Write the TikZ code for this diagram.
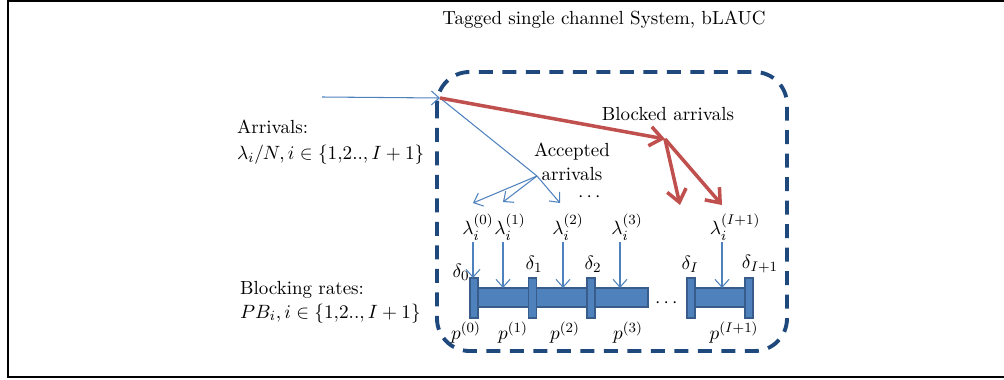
\documentclass[tikz,border=0pt]{standalone}
\usepackage{amsmath,amssymb}
\usetikzlibrary{arrows.meta,positioning}

\definecolor{boxblue}{RGB}{31,73,125}
\definecolor{arrblue}{RGB}{79,129,189}
\definecolor{barblue}{RGB}{79,129,189}
\definecolor{baredge}{RGB}{56,93,138}
\definecolor{blockred}{RGB}{192,80,77}

\tikzset{
  accarrow/.style={arrblue, line width=0.6pt, -{Straight Barb[length=4.5pt,width=8pt]}},
  blkarrow/.style={blockred, line width=2pt, -{Straight Barb[length=7pt,width=11pt]}},
  barbox/.style={draw=baredge, fill=barblue, line width=1pt, inner sep=0pt},
  postbox/.style={barbox, minimum width=0.16cm, minimum height=0.8cm},
  lbl/.style={inner sep=1pt}
}

\begin{document}
\begin{tikzpicture}[x=0.02cm, y=-0.02cm, every node/.style={font=\fontsize{10.8}{13.5}\selectfont}]
  \useasboundingbox (0,0) rectangle (1004,379);

  % Frame
  \draw[line width=1.7pt] (1004,1) -- (8,1) -- (8,377) -- (1004,377);

  % Title and system box
  \node (title) at (604,20) {Tagged single channel System, bLAUC};
  \draw[boxblue, line width=2.2pt, dash pattern=on 0.28cm off 0.19cm, rounded corners=0.65cm]
    (437,72) rectangle (787,351);

  % Left labels
  \node[anchor=west, align=left] (arr) at (231,142) {Arrivals:\\[1pt] $\lambda_i/N, i \in \{1{,}2..,I+1\}$};
  \node[anchor=west, align=left] (blkr) at (234,302) {Blocking rates:\\ $PB_i, i \in \{1{,}2..,I+1\}$};

  % Channel bars and posts
  \node[barbox, minimum width=3.46cm, minimum height=0.38cm] (bar1) at (561.5,297.5) {};
  \node[barbox, minimum width=1.12cm, minimum height=0.38cm] (bar2) at (720,297.5) {};
  \node[postbox] (d0) at (474,298) {};
  \node[postbox] (d1) at (532.5,298) {};
  \node[postbox] (d2) at (591,298) {};
  \node[postbox] (dI) at (691,298) {};
  \node[postbox] (dJ) at (749,298) {};
  \node (gap) at (668,303) {$\cdots$};

  % Post labels
  \node[lbl] (t0) at (461,272) {$\delta_0$};
  \node[lbl] (t1) at (534,264) {$\delta_1$};
  \node[lbl] (t2) at (593,264) {$\delta_2$};
  \node[lbl] (tI) at (690,264) {$\delta_I$};
  \node[lbl] (tJ) at (760,264) {$\delta_{I+1}$};

  % Segment labels
  \node[lbl] (p0) at (466,333) {$p^{(0)}$};
  \node[lbl] (p1) at (513,333) {$p^{(1)}$};
  \node[lbl] (p2) at (565,333) {$p^{(2)}$};
  \node[lbl] (p3) at (628,333) {$p^{(3)}$};
  \node[lbl] (pJ) at (734,333) {$p^{(I+1)}$};

  % Arrival rate labels
  \node[lbl] (l0) at (478,227) {$\lambda_i^{(0)}$};
  \node[lbl] (l1) at (510,227) {$\lambda_i^{(1)}$};
  \node[lbl] (l2) at (568,227) {$\lambda_i^{(2)}$};
  \node[lbl] (l3) at (627,227) {$\lambda_i^{(3)}$};
  \node[lbl] (lJ) at (735,227) {$\lambda_i^{(I+1)}$};
  \node (ldots) at (591,197) {$\cdots$};

  % Arrow ends on the channel
  \coordinate (a0) at (473,278);
  \coordinate (a1) at (503,288);
  \coordinate (a2) at (563,288);
  \coordinate (a3) at (620,288);
  \coordinate (aJ) at (722,288);
  \foreach \n in {0,1,2,3,J}
    \draw[accarrow] (l\n.south -| a\n) -- (a\n);

  % Incoming arrivals
  \coordinate (src) at (322,97);
  \coordinate (hub) at (440,98);
  \draw[accarrow] (src) -- (hub);

  % Accepted arrivals
  \coordinate (acchub) at (537,176);
  \coordinate (e0) at (473,203);
  \coordinate (e1) at (503,202);
  \coordinate (e2) at (560,203);
  \draw[arrblue, line width=0.6pt] (hub) -- (acchub);
  \foreach \n in {0,1,2}
    \draw[accarrow] (acchub) -- (e\n);
  \node[align=center] (acclbl) at (572,162) {Accepted\\ arrivals};

  % Blocked arrivals
  \coordinate (blkhub) at (665,139);
  \coordinate (b1) at (680,205);
  \coordinate (b2) at (722,205);
  \draw[blkarrow] (hub) -- (blkhub);
  \draw[blkarrow] (blkhub) -- (b1);
  \draw[blkarrow] (blkhub) -- (b2);
  \node (blklbl) at (668,114) {Blocked arrivals};
\end{tikzpicture}
\end{document}
